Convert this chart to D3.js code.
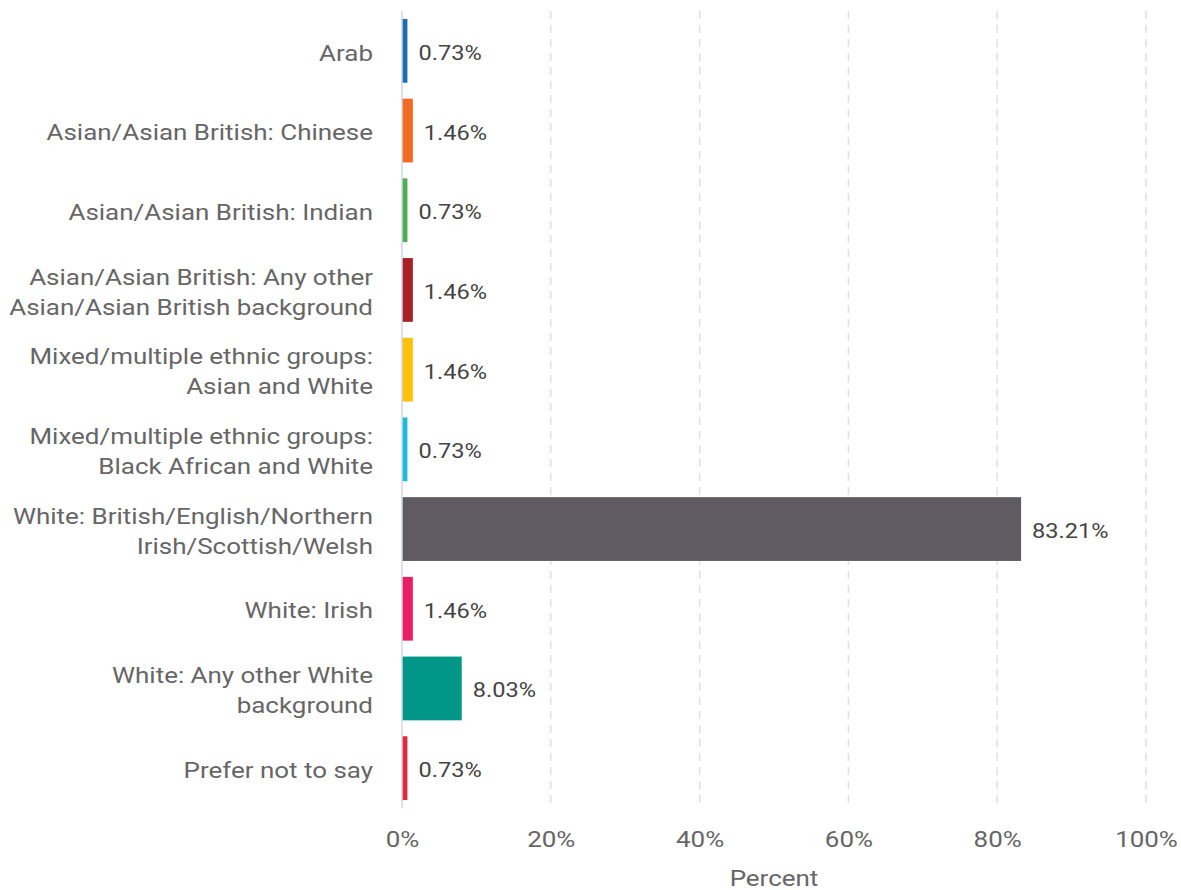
<!DOCTYPE html>
<html>
<head>
<meta charset="utf-8">
<script src="https://cdn.jsdelivr.net/npm/d3@7"></script>
<style>
  body { margin: 0; background: #fff; font-family: Roboto, sans-serif; }
</style>
</head>
<body>
<svg id="chart" width="1181" height="890"></svg>
<script>
// categories, split into lines as in the chart
var categories = [
  ["Arab"],
  ["Asian/Asian British: Chinese"],
  ["Asian/Asian British: Indian"],
  ["Asian/Asian British: Any other", "Asian/Asian British background"],
  ["Mixed/multiple ethnic groups:", "Asian and White"],
  ["Mixed/multiple ethnic groups:", "Black African and White"],
  ["White: British/English/Northern", "Irish/Scottish/Welsh"],
  ["White: Irish"],
  ["White: Any other White", "background"],
  ["Prefer not to say"]
];
var values = [0.73, 1.46, 0.73, 1.46, 1.46, 0.73, 83.21, 1.46, 8.03, 0.73];
var colors = ["#1f6db1", "#f26b21", "#4caf50", "#a82123", "#ffc107",
              "#1ebcd8", "#605b63", "#e91e63", "#009688", "#dc2a3c"];
var ticks = [0, 20, 40, 60, 80, 100];

var svg = d3.select("#chart");
var plotL = 402, plotR = 1146, plotT = 11, plotB = 808;
var SX = 1.18; // text in the picture is a bit wide

var x = d3.scaleLinear().domain([0, 100]).range([plotL, plotR]);
var y = d3.scaleBand()
        .domain(d3.range(values.length))
        .range([plotT, plotB])
        .paddingInner(0.2)
        .paddingOuter(0.1);

// grid lines
svg.append("g").selectAll("line")
        .data(ticks.filter((t) => t > 0))
        .enter()
        .append("line")
        .attr("x1", (d) => x(d))
        .attr("x2", (d) => x(d))
        .attr("y1", plotT)
        .attr("y2", plotB)
        .attr("stroke", "#e0e0e0")
        .attr("stroke-width", 1.5)
        .attr("stroke-dasharray", "8,6");

// bars
svg.append("g").selectAll("rect")
        .data(values)
        .enter()
        .append("rect")
        .attr("x", x(0))
        .attr("y", (d, i) => y(i))
        .attr("width", (d) => x(d) - x(0))
        .attr("height", y.bandwidth())
        .attr("fill", (d, i) => colors[i]);

// left axis line
svg.append("line")
        .attr("x1", x(0)).attr("x2", x(0))
        .attr("y1", plotT).attr("y2", plotB)
        .attr("stroke", "#ccd6eb")
        .attr("stroke-width", 1.5);

// value labels
svg.append("g").selectAll("text")
        .data(values)
        .enter()
        .append("text")
        .attr("transform", (d, i) => "translate(" + (x(d) + 11) + "," + (y(i) + y.bandwidth() / 2 + 2) + ") scale(" + SX + ",1)")
        .attr("dy", "0.35em")
        .attr("fill", "#444")
        .style("font-size", "20px")
        .text((d) => d.toFixed(2) + "%");

// category labels
var lab = svg.append("g").selectAll("text")
        .data(categories)
        .enter()
        .append("text")
        .attr("text-anchor", "end")
        .attr("fill", "#666")
        .style("font-size", "22px")
        .attr("transform", (d, i) => "translate(373," + (y(i) + y.bandwidth() / 2 + 2) + ") scale(" + SX + ",1)");
lab.selectAll("tspan")
        .data((d) => d.map((s, k) => ({s: s, k: k, n: d.length})))
        .enter()
        .append("tspan")
        .attr("x", 0)
        .attr("dy", (d) => d.k == 0 ? (0.35 * 22 - (d.n - 1) * 15) + "px" : "30px")
        .text((d) => d.s);

// x axis
var xAxis = d3.axisBottom(x)
        .tickValues(ticks)
        .tickSize(0)
        .tickFormat((d) => d + "%");
var ax = svg.append("g")
        .attr("transform", "translate(0," + plotB + ")")
        .call(xAxis);
ax.select(".domain").remove();
ax.selectAll("text")
        .attr("y", 0)
        .attr("transform", "translate(0,31) scale(" + SX + ",1)")
        .attr("dy", "0.35em")
        .attr("fill", "#666")
        .style("font-family", "Roboto, sans-serif")
        .style("font-size", "22px");

svg.append("text")
        .attr("transform", "translate(" + ((plotL + plotR) / 2) + ",878) scale(" + SX + ",1)")
        .attr("dy", "0.35em")
        .attr("text-anchor", "middle")
        .attr("fill", "#666")
        .style("font-size", "22px")
        .text("Percent");
</script>
</body>
</html>
